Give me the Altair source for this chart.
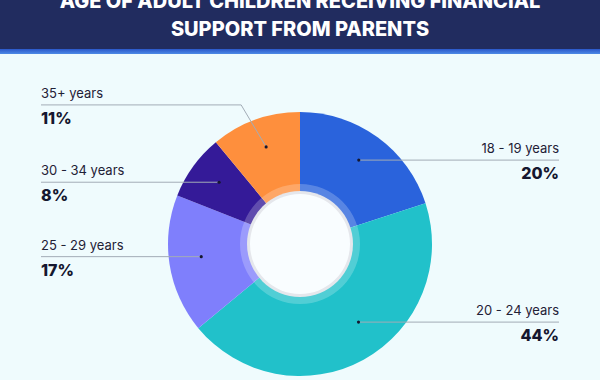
import altair as alt
import numpy as np
import pandas as pd

# ---- data -------------------------------------------------------------
title_lines = ["AGE OF ADULT CHILDREN RECEIVING FINANCIAL", "SUPPORT FROM PARENTS"]
ages = ["18 - 19 years", "20 - 24 years", "25 - 29 years", "30 - 34 years", "35+ years"]
shares = [20, 44, 17, 8, 11]
colors = ["#2a63dc", "#21c1ca", "#7f7ffc", "#341a98", "#fe8f3d"]

# ---- layout -----------------------------------------------------------
W, H = 600, 380
CX, CY = 300, 244            # donut centre
R_OUT, R_HOLE = 132, 50      # outer radius, white hole radius
DOT_R, DOT_CY = 100, 241     # where leader lines start
LEFT_X, RIGHT_X = 41, 559    # label anchors
angle_shift = {"20 - 24 years": -7}      # degrees, keeps the dot clear of the hole
elbow = {"35+ years": (25, 42)}          # (dx, dy) of the bent leader line
BG = "#effbfd"
INK = "#15172f"

# ---- derived tables -----------------------------------------------------
total = float(sum(shares))
ends = np.cumsum(shares)
starts = ends - np.array(shares)
rows, segs = [], []
for i, age in enumerate(ages):
    ang = (starts[i] + ends[i]) / 2 / total * 360 + angle_shift.get(age, 0)
    a = np.radians(ang)
    dx, dy = CX + DOT_R * np.sin(a), DOT_CY - DOT_R * np.cos(a)
    side = "right" if ang < 180 else "left"
    lx = RIGHT_X if side == "right" else LEFT_X
    if age in elbow:
        ex, ey = elbow[age]
        kx, ky = dx - ex, dy - ey
        segs.append({"x": dx, "y": dy, "x2": kx, "y2": ky})
        segs.append({"x": kx, "y": ky, "x2": lx, "y2": ky})
        line_y = ky
    else:
        segs.append({"x": dx, "y": dy, "x2": lx, "y2": dy})
        line_y = dy
    rows.append({"age": age, "share": shares[i], "order": i, "dx": dx, "dy": dy,
                 "side": side, "lx": lx, "ly": line_y - 11, "py": line_y + 14,
                 "pct": f"{shares[i]}%"})

slices = pd.DataFrame(rows)
segments = pd.DataFrame(segs)
one = pd.DataFrame({"k": [0]})

xs = alt.Scale(domain=[0, W], range=[0, W])
ys = alt.Scale(domain=[0, H], range=[0, H])

# ---- header -------------------------------------------------------------
header = alt.Chart(one).mark_rect(color="#212c5f").encode(
    x=alt.value(0), x2=alt.value(W), y=alt.value(0), y2=alt.value(49))
stripe = alt.Chart(one).mark_rect(
    color=alt.Gradient(gradient="linear", x1=0, x2=0, y1=0, y2=1,
                       stops=[alt.GradientStop(color="#2a57c9", offset=0),
                              alt.GradientStop(color="#4d8ae6", offset=1)])
).encode(x=alt.value(0), x2=alt.value(W), y=alt.value(49), y2=alt.value(54))
title1 = alt.Chart(one).mark_text(
    text=title_lines[0], font="Inter", fontSize=20, fontWeight=800, color="white",
    align="center", baseline="alphabetic").encode(x=alt.value(W / 2), y=alt.value(8))
title2 = alt.Chart(one).mark_text(
    text=title_lines[1], font="Inter", fontSize=20, fontWeight=800, color="white",
    align="center", baseline="alphabetic").encode(x=alt.value(W / 2), y=alt.value(36))

# ---- donut ----------------------------------------------------------------
donut = alt.Chart(slices).mark_arc(radius=R_OUT, stroke=None).encode(
    theta=alt.Theta("share:Q", stack=True),
    order=alt.Order("order:Q"),
    color=alt.Color("age:N", scale=alt.Scale(domain=ages, range=colors), legend=None),
    x=alt.value(CX), y=alt.value(CY))
ring = alt.Chart(one).mark_arc(
    theta=0, theta2=2 * np.pi, radius=60, innerRadius=R_HOLE, color="white",
    opacity=0.22).encode(x=alt.value(CX), y=alt.value(CY))
rim = alt.Chart(one).mark_arc(
    theta=0, theta2=2 * np.pi, radius=R_HOLE + 3, color="#e5e7ec"
).encode(x=alt.value(CX), y=alt.value(CY))
hole = alt.Chart(one).mark_arc(
    theta=0, theta2=2 * np.pi, radius=R_HOLE, color="#f9fdff"
).encode(x=alt.value(CX), y=alt.value(CY))

# ---- leader lines and labels ------------------------------------------
lines = alt.Chart(segments).mark_rule(color="#a2acb6", strokeWidth=1).encode(
    x=alt.X("x:Q", scale=xs, axis=None), y=alt.Y("y:Q", scale=ys, axis=None),
    x2="x2:Q", y2="y2:Q")
dots = alt.Chart(slices).mark_circle(size=10, color=INK, opacity=1).encode(
    x=alt.X("dx:Q", scale=xs, axis=None), y=alt.Y("dy:Q", scale=ys, axis=None))

def side_labels(side, align):
    base = alt.Chart(slices).transform_filter(alt.datum.side == side)
    name = base.mark_text(font="Inter", fontSize=13, color="#1f2136", align=align,
                          baseline="middle").encode(
        x=alt.X("lx:Q", scale=xs, axis=None), y=alt.Y("ly:Q", scale=ys, axis=None),
        text="age:N")
    pct = base.mark_text(font="Inter", fontSize=16, fontWeight=800, color=INK,
                         align=align, baseline="middle").encode(
        x=alt.X("lx:Q", scale=xs, axis=None), y=alt.Y("py:Q", scale=ys, axis=None),
        text="pct:N")
    return name + pct

chart = alt.layer(
    header, stripe, title1, title2,
    donut, ring, rim, hole,
    lines, dots,
    side_labels("right", "right"), side_labels("left", "left"),
).properties(
    width=W, height=H, background=BG, padding=0,
    autosize=alt.AutoSizeParams(type="none"),
).configure_view(stroke=None)

chart.save("out.html", embed_options={"renderer": "svg", "actions": False})
